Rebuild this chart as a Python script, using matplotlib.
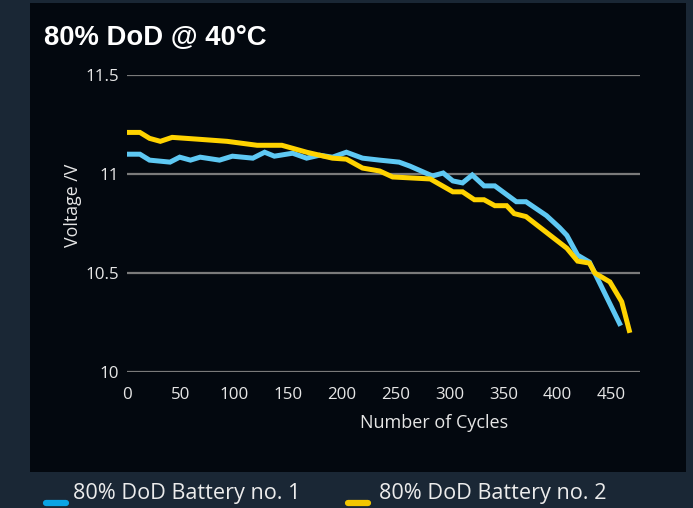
import matplotlib
matplotlib.use('Agg')
import matplotlib.pyplot as plt
from matplotlib.patches import Rectangle
from matplotlib.lines import Line2D

# Battery no. 1 (blue)
cycles_1 = [0, 12, 21, 40, 49, 59, 68, 86, 98, 117, 128, 137, 154, 167, 179, 191, 204, 219, 235, 253,
            263, 284, 294, 303, 312, 321, 332, 342, 362, 371, 390, 402, 409, 419, 430, 458]
volts_1 = [11.10, 11.10, 11.07, 11.06, 11.085, 11.07, 11.085, 11.07, 11.09, 11.08, 11.11, 11.09, 11.105, 11.08,
           11.095, 11.085, 11.11, 11.08, 11.07, 11.06, 11.04, 10.99, 11.005, 10.965, 10.955, 10.995, 10.94,
           10.94, 10.86, 10.86, 10.79, 10.73, 10.69, 10.59, 10.555, 10.245]

# Battery no. 2 (yellow)
cycles_2 = [0, 12, 21, 31, 42, 68, 93, 121, 144, 167, 191, 204, 219, 235, 247, 282, 303, 312, 323, 332,
            342, 353, 360, 371, 390, 409, 419, 430, 435, 449, 460, 467]
volts_2 = [11.21, 11.21, 11.18, 11.165, 11.185, 11.175, 11.165, 11.145, 11.145, 11.11, 11.08, 11.075, 11.03,
           11.015, 10.985, 10.975, 10.91, 10.91, 10.87, 10.87, 10.84, 10.84, 10.80, 10.785, 10.705, 10.625,
           10.56, 10.55, 10.50, 10.455, 10.355, 10.21]

labels = ['80% DoD Battery no. 1', '80% DoD Battery no. 2']
xticks = [0, 50, 100, 150, 200, 250, 300, 350, 400, 450]
yticks = [10, 10.5, 11, 11.5]
ytick_labels = ['10', '10.5', '11', '11.5']

W, H = 693, 508
fig = plt.figure(figsize=(W / 100, H / 100), dpi=100, facecolor='#1a2735')

# dark panel behind the chart
fig.patches.append(Rectangle((30 / W, 1 - 472 / H), (686 - 30) / W, (472 - 3) / H,
                             transform=fig.transFigure, facecolor='#03080f', edgecolor='none', zorder=-1))

ax = fig.add_axes([127 / W, 1 - 372 / H, (640 - 127) / W, (372 - 75) / H])
ax.set_zorder(2)
ax.set_facecolor('none')
ax.plot(cycles_1, volts_1, color='#5ec8f3', lw=3.6, solid_joinstyle='miter', zorder=3)
ax.plot(cycles_2, volts_2, color='#ffd300', lw=3.6, solid_joinstyle='miter', zorder=4)

ax.set_xlim(0, 477)
ax.set_ylim(10, 11.5)
ax.set_xticks(xticks)
ax.set_yticks(yticks)
ax.set_yticklabels(ytick_labels)
for s in ax.spines.values():
    s.set_visible(False)
ax.grid(axis='y', color='#7a7a7a', lw=1.6)
ax.tick_params(length=0, colors='#e6e6e6', labelsize=12.2)
ax.tick_params(axis='x', pad=11)
ax.tick_params(axis='y', pad=6)
for t in ax.get_xticklabels() + ax.get_yticklabels():
    t.set_family('Open Sans')

fig.text(44 / W, 1 - 38 / H, '80% DoD @ 40°C', color='white', fontsize=19.8, fontweight='bold',
         family='Liberation Sans', va='center', ha='left')
fig.text(434 / W, 1 - 423 / H, 'Number of Cycles', color='#e6e6e6', fontsize=13,
         family='Open Sans', ha='center', va='center')
fig.text(73 / W, 1 - 205 / H, 'Voltage /V', color='#e6e6e6', fontsize=12.8, rotation=90,
         family='Open Sans', ha='center', va='center')

# legend
leg_colors = ['#0ba4e4', '#f2c600']
leg_x = [(46, 66, 73), (348, 368, 379)]
for (x0, x1, xt), c, lab in zip(leg_x, leg_colors, labels):
    fig.add_artist(Line2D([x0 / W, x1 / W], [1 - 503 / H] * 2, transform=fig.transFigure,
                          color=c, lw=4.5, solid_capstyle='round'))
    fig.text(xt / W, 1 - 494 / H, lab, color='#ececec', fontsize=15.6, family='Open Sans',
             ha='left', va='center')

fig.savefig('out.png', dpi=100, facecolor=fig.get_facecolor())
